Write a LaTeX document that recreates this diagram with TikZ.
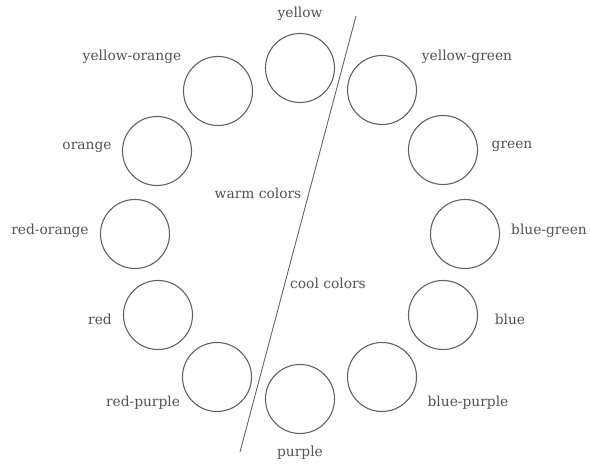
\documentclass[tikz,border=0pt]{standalone}
\usepackage{fontspec}
\setmainfont{DejaVu Serif}
\begin{document}
\begin{tikzpicture}[x=1pt,y=-1pt,
  swatch/.style={circle,draw=black!62,line width=1.1pt,minimum size=69pt,inner sep=0pt},
  lbl/.style={text=black!68,font=\fontsize{13.8}{15}\selectfont,inner sep=0pt},
  divider/.style={draw=black!60,line width=0.9pt}]
\useasboundingbox (0,0) rectangle (590,465);
% circles
\node[swatch] (cy)  at (300,68) {};
\node[swatch] (cyg) at (382,90) {};
\node[swatch] (cg)  at (443,150) {};
\node[swatch] (cbg) at (465,234) {};
\node[swatch] (cb)  at (443,315) {};
\node[swatch] (cbp) at (382,377) {};
\node[swatch] (cp)  at (300,399) {};
\node[swatch] (crp) at (217,377) {};
\node[swatch] (cr)  at (158,315) {};
\node[swatch] (cro) at (135,234) {};
\node[swatch] (co)  at (157,151) {};
\node[swatch] (cyo) at (218,91) {};
% labels
\node[lbl] (ly)  at (300,14) {yellow};
\node[lbl] (lyg) at (467,57) {yellow-green};
\node[lbl] (lg)  at (512,146) {green};
\node[lbl] (lbg) at (549,231) {blue-green};
\node[lbl] (lb)  at (510,319) {blue};
\node[lbl] (lbp) at (468,403) {blue-purple};
\node[lbl] (lp)  at (300,453) {purple};
\node[lbl] (lrp) at (143,403) {red-purple};
\node[lbl] (lr)  at (100,319) {red};
\node[lbl] (lro) at (50,231) {red-orange};
\node[lbl] (lo)  at (87,147) {orange};
\node[lbl] (lyo) at (132,57) {yellow-orange};
\node[lbl] (lw)  at (258,193) {warm colors};
\node[lbl] (lc)  at (328,283) {cool colors};
% divider
\coordinate (dtop) at (356,16);
\coordinate (dbot) at (240,452);
\draw[divider] (dtop) -- (dbot);
\end{tikzpicture}
\end{document}
